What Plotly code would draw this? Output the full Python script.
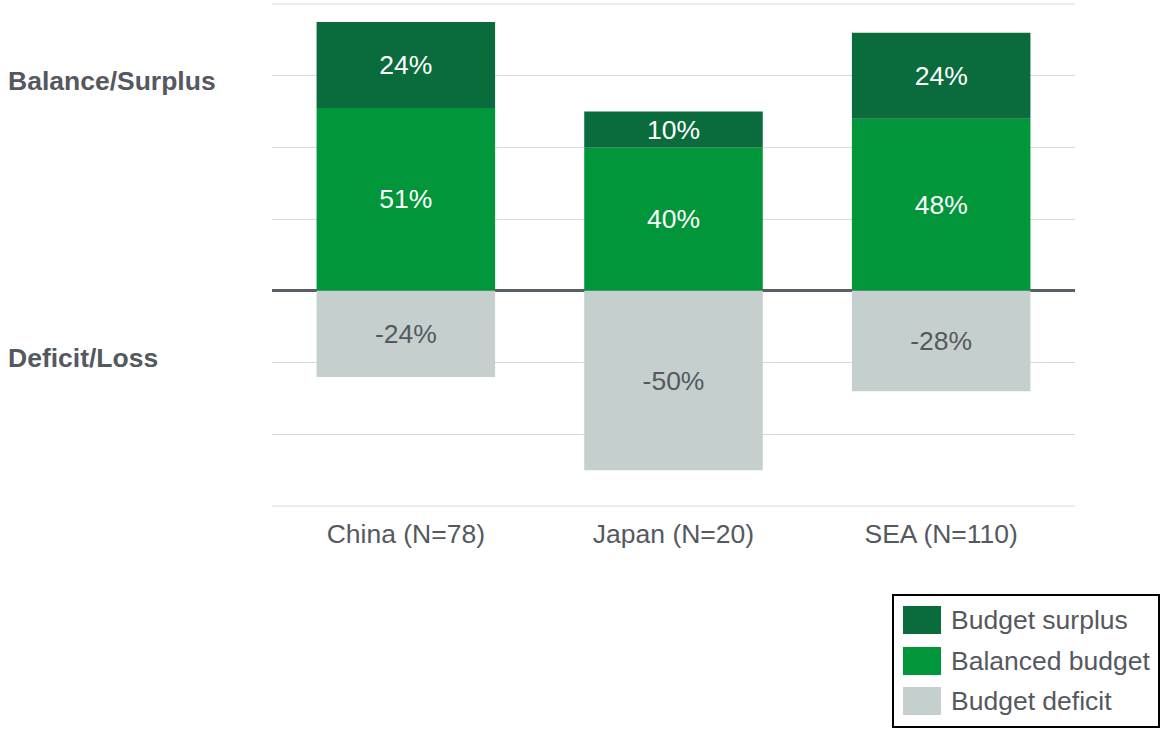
import plotly.graph_objects as go

categories = ["China (N=78)", "Japan (N=20)", "SEA (N=110)"]
balanced = [51, 40, 48]
surplus = [24, 10, 24]
deficit = [-24, -50, -28]

series_names = ["Budget surplus", "Balanced budget", "Budget deficit"]
series_colors = ["#0A6B3C", "#009639", "#C5CFCD"]

W, H = 1161, 729
L, R, T, B = 272, 86, 4, 223
PW, PH = W - L - R, H - T - B

def px(x):
    return (x - L) / PW

def py(y):
    return (H - B - y) / PH

TEXT = "#55595F"
FONT = "Liberation Sans, Arial, sans-serif"
FS = 26.5

fig = go.Figure()
fig.add_trace(go.Bar(x=categories, y=balanced, name=series_names[1],
                     marker=dict(color=series_colors[1], line=dict(width=0)),
                     text=[f"{v}%" for v in balanced], textposition="inside",
                     insidetextanchor="middle", textangle=0,
                     textfont=dict(color="white", size=FS, family=FONT)))
fig.add_trace(go.Bar(x=categories, y=surplus, name=series_names[0],
                     marker=dict(color=series_colors[0], line=dict(width=0)),
                     text=[f"{v}%" for v in surplus], textposition="inside",
                     insidetextanchor="middle", textangle=0,
                     textfont=dict(color="white", size=FS, family=FONT)))
fig.add_trace(go.Bar(x=categories, y=deficit, name=series_names[2],
                     marker=dict(color=series_colors[2], line=dict(width=0)),
                     text=[f"{v}%" for v in deficit], textposition="inside",
                     insidetextanchor="middle", textangle=0,
                     textfont=dict(color=TEXT, size=FS, family=FONT)))

fig.update_layout(
    width=W, height=H,
    margin=dict(l=L, r=R, t=T, b=B),
    barmode="relative", bargap=0.333,
    plot_bgcolor="white", paper_bgcolor="white",
    showlegend=False,
    font=dict(family=FONT, color=TEXT, size=FS),
    uniformtext=dict(minsize=FS, mode="show"),
)
fig.update_yaxes(range=[-60, 80], dtick=20, showticklabels=False,
                 gridcolor="#D9D9D9", gridwidth=1,
                 zeroline=True, zerolinecolor="#595F63", zerolinewidth=3)
fig.update_xaxes(showgrid=False, showline=False, ticks="",
                 tickfont=dict(size=FS, color=TEXT, family=FONT),
                 ticklabelstandoff=9)

# Edge gridlines (80% and -60%) sit on the plot edges
for yy in (0, 1):
    fig.add_shape(type="line", xref="paper", yref="paper", x0=0, x1=1, y0=yy, y1=yy,
                  line=dict(color="#D9D9D9", width=1), layer="below")

# Left side labels
fig.add_annotation(text="<b>Balance/Surplus</b>", xref="paper", yref="paper",
                   x=px(6), y=py(81), xanchor="left", yanchor="middle",
                   showarrow=False, font=dict(size=FS, color=TEXT, family=FONT))
fig.add_annotation(text="<b>Deficit/Loss</b>", xref="paper", yref="paper",
                   x=px(6), y=py(358), xanchor="left", yanchor="middle",
                   showarrow=False, font=dict(size=FS, color=TEXT, family=FONT))

# Manual legend box
fig.add_shape(type="rect", xref="paper", yref="paper",
              x0=px(893), x1=px(1159), y0=py(727), y1=py(595),
              line=dict(color="black", width=2), fillcolor="white")
row_centers = [620, 661, 701]
for name, color, yc in zip(series_names, series_colors, row_centers):
    fig.add_shape(type="rect", xref="paper", yref="paper",
                  x0=px(903), x1=px(941), y0=py(yc + 14), y1=py(yc - 14),
                  line=dict(width=0), fillcolor=color)
    fig.add_annotation(text=name, xref="paper", yref="paper",
                       x=px(949), y=py(yc), xanchor="left", yanchor="middle",
                       showarrow=False, font=dict(size=FS, color=TEXT, family=FONT))

fig.write_html("out.html", config={"displayModeBar": False},
               post_script="document.body.style.margin='0';document.body.style.overflow='hidden';")
